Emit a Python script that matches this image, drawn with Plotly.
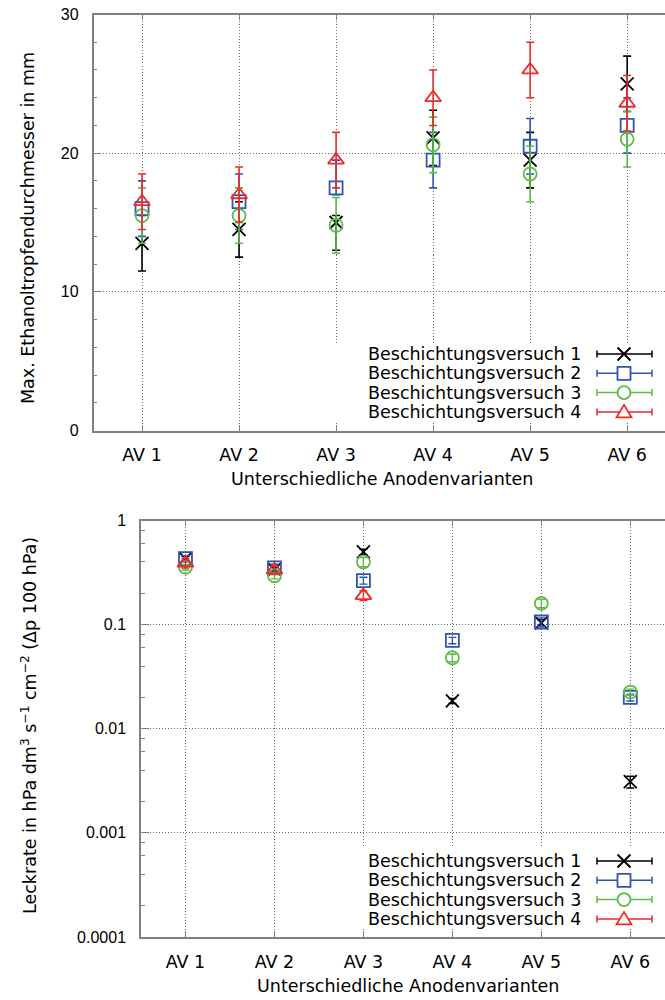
import plotly.graph_objects as go

# ---------------- data ----------------
categories = ["AV 1", "AV 2", "AV 3", "AV 4", "AV 5", "AV 6"]
series_names = ["Beschichtungsversuch 1", "Beschichtungsversuch 2",
                "Beschichtungsversuch 3", "Beschichtungsversuch 4"]

# top: max. ethanol drop diameter in mm (value, +err, -err)
drop_v1 = [13.5, 14.5, 15.0, 21.1, 19.5, 25.0]
drop_p1 = [2.0, 2.0, 0.5, 2.0, 2.0, 2.0]
drop_m1 = [2.0, 2.0, 2.0, 2.0, 2.0, 2.0]
drop_v2 = [16.0, 16.5, 17.5, 19.5, 20.5, 22.0]
drop_p2 = [2.0, 2.0, 2.0, 2.0, 2.0, 2.0]
drop_m2 = [2.0, 2.0, 0.5, 2.0, 2.0, 2.0]
drop_v3 = [15.5, 15.5, 14.8, 20.6, 18.5, 21.0]
drop_p3 = [2.0, 2.0, 2.0, 2.0, 2.0, 2.0]
drop_m3 = [2.0, 2.0, 2.0, 2.0, 2.0, 2.0]
drop_v4 = [16.5, 17.0, 19.5, 24.0, 26.0, 23.6]
drop_p4 = [2.0, 2.0, 2.0, 2.0, 2.0, 2.0]
drop_m4 = [2.0, 2.0, 2.0, 2.0, 2.0, 2.0]

# bottom: leak rate (value, +/- err)
leak_v1 = [0.43, 0.34, 0.50, 0.0185, 0.104, 0.0031]
leak_e1 = [0.02, 0.02, 0.03, 0.001, 0.008, 0.0004]
leak_v2 = [0.43, 0.35, 0.265, 0.0705, 0.106, 0.0200]
leak_e2 = [0.03, 0.03, 0.02, 0.005, 0.01, 0.0015]
leak_v3 = [0.355, 0.295, 0.40, 0.048, 0.16, 0.0225]
leak_e3 = [0.02, 0.02, 0.04, 0.004, 0.015, 0.0015]
leak_v4 = [0.39, 0.335, 0.19, None, None, None]
leak_e4 = [0.04, 0.03, 0.02, None, None, None]

top_ticks = [0, 10, 20, 30]
log_ticks = [0.0001, 0.001, 0.01, 0.1, 1]
log_ticktext = ["0.0001", "0.001", "0.01", "0.1", "1"]

# ---------------- style ----------------
W, H = 665, 1000
colors = ["#000000", "#2f55b0", "#5dbb46", "#ee2a2a"]
symbols = ["x-thin-open", "square-open", "circle-open", "triangle-up-open"]
sizes = [13, 13, 13, 14]
FONT = "DejaVu Sans"
AX = "#808080"
GRID = "#6a6a6a"
GDASH = "1px,2px"


def px(x):
    return x / W


def py(y):
    return 1 - y / H


fig = go.Figure()

top_sets = [(drop_v1, drop_p1, drop_m1), (drop_v2, drop_p2, drop_m2),
            (drop_v3, drop_p3, drop_m3), (drop_v4, drop_p4, drop_m4)]
for i, (v, p, m) in enumerate(top_sets):
    fig.add_trace(go.Scatter(
        x=categories, y=v, mode="markers", name=series_names[i], showlegend=False,
        marker=dict(symbol=symbols[i], size=sizes[i], color=colors[i],
                    line=dict(color=colors[i], width=1.8)),
        error_y=dict(type="data", array=p, arrayminus=m, color=colors[i],
                     thickness=1.6, width=4),
        xaxis="x", yaxis="y"))

bot_sets = [(leak_v1, leak_e1), (leak_v2, leak_e2), (leak_v3, leak_e3), (leak_v4, leak_e4)]
for i, (v, e) in enumerate(bot_sets):
    fig.add_trace(go.Scatter(
        x=categories, y=v, mode="markers", name=series_names[i], showlegend=False,
        marker=dict(symbol=symbols[i], size=sizes[i], color=colors[i],
                    line=dict(color=colors[i], width=1.8)),
        error_y=dict(type="data", array=e, color=colors[i], thickness=1.4, width=4),
        xaxis="x2", yaxis="y2"))

xcommon = dict(type="category", range=[-0.5, 5.39], showline=True, linecolor=AX,
               linewidth=1.5, mirror="ticks", ticks="inside", ticklen=6,
               tickcolor=AX, tickwidth=1, showgrid=True, gridcolor=GRID,
               griddash=GDASH, gridwidth=1, zeroline=False,
               tickfont=dict(family=FONT, size=17.5, color="#000"),
               ticklabelstandoff=8, automargin=False, fixedrange=True)

fig.update_layout(
    width=W, height=H, margin=dict(l=0, r=0, t=0, b=0),
    paper_bgcolor="white", plot_bgcolor="white", showlegend=False,
    font=dict(family=FONT, size=17.5, color="#000"),
    xaxis=dict(xcommon, domain=[px(93.5), 1], anchor="y"),
    xaxis2=dict(xcommon, domain=[px(141), 1], anchor="y2"),
    yaxis=dict(domain=[py(430.5), py(14.5)], anchor="x", range=[0, 30],
               tickvals=top_ticks, showline=True, linecolor=AX, linewidth=1.5,
               ticks="inside", ticklen=8, tickcolor=AX,
               minor=dict(ticks="inside", dtick=2, ticklen=4, tickcolor=AX, showgrid=False),
               showgrid=True, gridcolor=GRID, griddash=GDASH, gridwidth=1,
               zeroline=False, tickfont=dict(family="Liberation Sans", size=16, color="#000"),
               ticklabelstandoff=10, automargin=False, fixedrange=True),
    yaxis2=dict(domain=[py(937), py(520.5)], anchor="x2", type="log", range=[-4, 0],
                tickvals=log_ticks, ticktext=log_ticktext, showline=True, linecolor=AX,
                linewidth=1.5, ticks="inside", ticklen=8, tickcolor=AX,
                minor=dict(ticks="inside", ticklen=4, tickcolor=AX, showgrid=False,
                           tickvals=[k * 10.0 ** e for e in range(-4, 0) for k in (2, 4, 6, 8)]),
                showgrid=True, gridcolor=GRID, griddash=GDASH, gridwidth=1,
                zeroline=False, tickfont=dict(family="Liberation Sans", size=16, color="#000"),
                ticklabelstandoff=10, automargin=False, fixedrange=True),
)

annotations = [
    dict(text="Max. Ethanoltropfendurchmesser in mm", x=px(28), y=py(228), textangle=-90),
    dict(text="Unterschiedliche Anodenvarianten", x=px(382), y=py(479)),
    dict(text="Leckrate in hPa dm<sup>3</sup> s<sup>\u22121</sup> cm<sup>\u22122</sup> (\u0394p 100 hPa)",
         x=px(29), y=py(726), textangle=-90),
    dict(text="Unterschiedliche Anodenvarianten", x=px(408), y=py(986)),
]
for a in annotations:
    a.update(xref="paper", yref="paper", showarrow=False, xanchor="center", yanchor="middle",
             font=dict(family=FONT, size=17.5, color="#000"))

shapes = []
# manual key (symbol right of text, as in the original)
for top_row, box_top in ((354, 343), (861, 848)):
    shapes.append(dict(type="rect", xref="paper", yref="paper", layer="above",
                       x0=px(322), x1=1, y0=py(box_top), y1=py(top_row + 3 * 19.3 + 10),
                       line=dict(width=0), fillcolor="white"))
    for i in range(4):
        yc = top_row + i * 19.3
        c = colors[i]
        annotations.append(dict(text=series_names[i], xref="paper", yref="paper",
                                x=px(583), y=py(yc), xanchor="right", yanchor="middle",
                                showarrow=False,
                                font=dict(family=FONT, size=17.5, color="#000")))
        x0, x1, xm = 597, 652, 624
        path = (f"M {px(x0)},{py(yc)} L {px(x1)},{py(yc)} "
                f"M {px(x0)},{py(yc - 3.5)} L {px(x0)},{py(yc + 3.5)} "
                f"M {px(x1)},{py(yc - 3.5)} L {px(x1)},{py(yc + 3.5)}")
        shapes.append(dict(type="path", path=path, xref="paper", yref="paper", layer="above",
                           line=dict(color=c, width=1.5)))
        r = 6.5
        if i == 0:
            p = (f"M {px(xm - r)},{py(yc - r)} L {px(xm + r)},{py(yc + r)} "
                 f"M {px(xm - r)},{py(yc + r)} L {px(xm + r)},{py(yc - r)}")
            shapes.append(dict(type="path", path=p, xref="paper", yref="paper", layer="above",
                               line=dict(color=c, width=2)))
        elif i == 1:
            shapes.append(dict(type="rect", xref="paper", yref="paper", layer="above",
                               x0=px(xm - r), x1=px(xm + r), y0=py(yc + r), y1=py(yc - r),
                               fillcolor="white", line=dict(color=c, width=1.8)))
        elif i == 2:
            shapes.append(dict(type="circle", xref="paper", yref="paper", layer="above",
                               x0=px(xm - r), x1=px(xm + r), y0=py(yc + r), y1=py(yc - r),
                               fillcolor="white", line=dict(color=c, width=1.8)))
        else:
            p = (f"M {px(xm)},{py(yc - 7)} L {px(xm + 7.5)},{py(yc + 5.5)} "
                 f"L {px(xm - 7.5)},{py(yc + 5.5)} Z")
            shapes.append(dict(type="path", path=p, xref="paper", yref="paper", layer="above",
                               fillcolor="white", line=dict(color=c, width=1.8)))

fig.update_layout(annotations=annotations, shapes=shapes)

fig.write_html("out.html", config={"displayModeBar": False})
